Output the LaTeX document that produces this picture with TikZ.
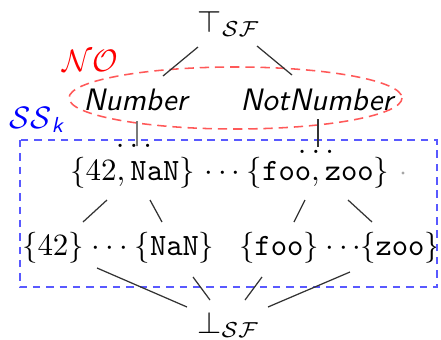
\documentclass[tikz,border=0pt]{standalone}
\usepackage{amsmath,amssymb}
\begin{document}
\begin{tikzpicture}[x=0.32258pt,y=-0.32258pt,
  lbl/.style={inner sep=0pt,outer sep=0pt,anchor=base},
  edge/.style={draw=black!80,line width=0.4pt},
  redset/.style={draw=red!65,line width=0.5pt,dash pattern=on 3pt off 1.9pt},
  blueset/.style={draw=blue!65,line width=0.5pt,dash pattern=on 2.4pt off 1.9pt}]
\useasboundingbox (0,0) rectangle (441,340);
% nodes
\node[lbl] (top) at (229,32) {$\top_{\mathcal{SF}}$};
\node[lbl] (num) at (136.5,110) {\textsf{\textit{Number}}};
\node[lbl] (notnum) at (318,110) {\textsf{\textit{NotNumber}}};
\node[lbl,text=red] (no) at (90,71) {$\mathcal{NO}$};
\node[lbl,text=blue] (ssk) at (37.5,128) {$\mathcal{SS}_{\textsf{\textit{k}}}$};
\node[lbl] (d1) at (134,147) {$\ldots$};
\node[lbl] (d2) at (316,153) {$\ldots$};
\node[lbl] (p1) at (132.5,180) {$\{42,\mathtt{NaN}\}$};
\node[lbl] (md) at (225,180) {$\cdots$};
\node[lbl] (p2) at (318,180) {$\{\mathtt{foo},\mathtt{zoo}\}$};
\node[lbl] (b1) at (53,255) {$\{42\}$};
\node[lbl] (bd1) at (112.5,255) {$\cdots$};
\node[lbl] (b2) at (174.5,255) {$\{\mathtt{NaN}\}$};
\node[lbl] (b3) at (279,255) {$\{\mathtt{foo}\}$};
\node[lbl] (bd2) at (346,255) {$\cdots$};
\node[lbl] (b4) at (400,255) {$\{\mathtt{zoo}\}$};
\node[lbl] (bot) at (228.5,333) {$\bot_{\mathcal{SF}}$};
% groupings
\draw[redset] (235.5,98) ellipse [x radius=166.5, y radius=31];
\draw[blueset] (20,140) rectangle (437,287);
\fill[black!35] (403,173) circle (0.5pt);
% connectors
\draw[edge] ([shift={(-31,15)}]top.base) -- ([shift={(26.5,-34)}]num.base);
\draw[edge] ([shift={(28,14)}]top.base) -- ([shift={(-26,-35)}]notnum.base);
\draw[edge] ([shift={(0.5,11)}]num.base) -- ([shift={(3,-1)}]d1.base);
\draw[edge] ([shift={(0,9)}]notnum.base) -- ([shift={(2,-6)}]d2.base);
\draw[edge] ([shift={(-25.5,20)}]p1.base) -- ([shift={(30,-33)}]b1.base);
\draw[edge] ([shift={(17.5,20)}]p1.base) -- ([shift={(-12.5,-33)}]b2.base);
\draw[edge] ([shift={(-13,20)}]p2.base) -- ([shift={(15,-33)}]b3.base);
\draw[edge] ([shift={(30,20)}]p2.base) -- ([shift={(-28,-33)}]b4.base);
\draw[edge] ([shift={(44,13)}]b1.base) -- ([shift={(-41.5,-26)}]bot.base);
\draw[edge] ([shift={(18.5,22)}]b2.base) -- ([shift={(-18.5,-33)}]bot.base);
\draw[edge] ([shift={(-17,22)}]b3.base) -- ([shift={(16.5,-33)}]bot.base);
\draw[edge] ([shift={(-50,17)}]b4.base) -- ([shift={(39.5,-26)}]bot.base);
\end{tikzpicture}
\end{document}
